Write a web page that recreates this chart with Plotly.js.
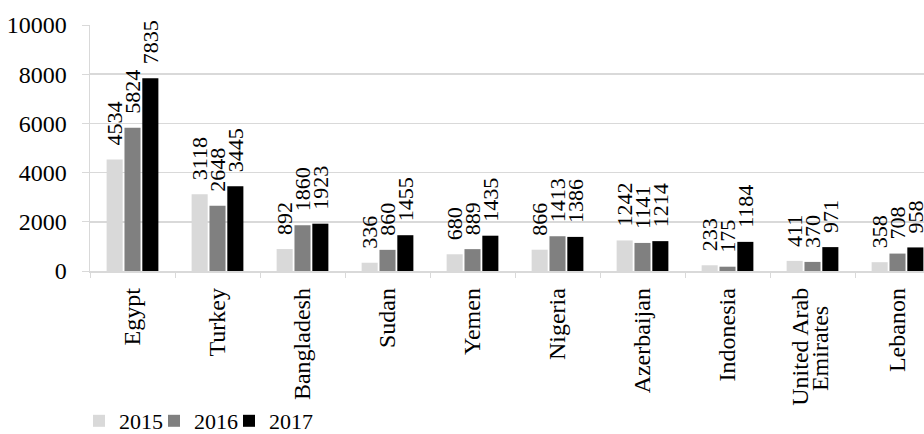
<!DOCTYPE html>
<html>
<head>
<meta charset="utf-8">
<script src="https://cdn.plot.ly/plotly-3.0.1.min.js"></script>
<style>
html, body { margin: 0; padding: 0; overflow: hidden; background: #fff; }
#chart { width: 945px; height: 470px; }
</style>
</head>
<body>
<div id="chart"></div>
<script>
const countries = ["Egypt", "Turkey", "Bangladesh", "Sudan", "Yemen", "Nigeria", "Azerbaijan", "Indonesia", "United Arab Emirates", "Lebanon"];
const tickLabels = ["Egypt", "Turkey", "Bangladesh", "Sudan", "Yemen", "Nigeria", "Azerbaijan", "Indonesia", "", "Lebanon"];
const uaeLines = ["United Arab", "Emirates\u00a0\u00a0\u00a0"];
const years = ["2015", "2016", "2017"];
const values2015 = [4534, 3118, 892, 336, 680, 866, 1242, 233, 411, 358];
const values2016 = [5824, 2648, 1860, 860, 889, 1413, 1141, 175, 370, 708];
const values2017 = [7835, 3445, 1923, 1455, 1435, 1386, 1214, 1184, 971, 958];
const yTicks = [0, 2000, 4000, 6000, 8000, 10000];

const colors = ["#d9d9d9", "#808080", "#000000"];
const series = [values2015, values2016, values2017];
const FONT = "'Liberation Serif', 'Times New Roman', serif";
const uaeIndex = countries.indexOf("United Arab Emirates");

const traces = series.map((vals, i) => ({
  type: "bar",
  name: years[i],
  x: countries,
  y: vals,
  text: vals.map(String),
  texttemplate: "\u00a0\u00a0%{text}",
  textposition: "outside",
  textangle: -90,
  constraintext: "none",
  cliponaxis: false,
  textfont: { family: FONT, size: 22, color: "#000" },
  marker: { color: colors[i] },
  hoverinfo: "x+y+name"
}));

// invisible helper: draws the second (label-only) x axis and pads the legend box
traces.push({
  type: "scatter",
  mode: "markers",
  name: "\u00a0",
  x: [uaeIndex],
  y: [0],
  xaxis: "x2",
  yaxis: "y",
  marker: { opacity: 0, size: 1, color: "rgba(0,0,0,0)" },
  showlegend: true,
  hoverinfo: "skip"
});

const layout = {
  width: 945,
  height: 470,
  margin: { l: 90, r: 5, t: 25, b: 199 },
  paper_bgcolor: "#fff",
  plot_bgcolor: "#fff",
  barmode: "group",
  bargap: 0.37,
  bargroupgap: 0.1,
  font: { family: FONT, size: 22, color: "#000" },
  showlegend: true,
  legend: {
    orientation: "h",
    x: -11 / 850, xanchor: "left",
    y: -150 / 246, yanchor: "middle",
    bgcolor: "rgba(0,0,0,0)",
    font: { family: FONT, size: 22, color: "#000" },
    itemwidth: 30,
    entrywidth: 30,
    tracegroupgap: 0
  },
  xaxis: {
    type: "category",
    tickvals: countries,
    ticktext: tickLabels,
    tickangle: -90,
    showline: true,
    linecolor: "#d9d9d9",
    linewidth: 1.5,
    ticks: "outside",
    tickson: "boundaries",
    ticklen: 5,
    tickcolor: "#d9d9d9",
    showgrid: false,
    tickfont: { family: FONT, size: 24, color: "#000" },
    ticklabelstandoff: 6,
    automargin: false
  },
  xaxis2: {
    overlaying: "x",
    anchor: "y",
    side: "bottom",
    type: "linear",
    range: [-0.5, countries.length - 0.5],
    tickvals: [uaeIndex - 0.14, uaeIndex + 0.085],
    ticktext: uaeLines,
    tickangle: -90,
    showline: false,
    ticks: "",
    showgrid: false,
    zeroline: false,
    tickfont: { family: FONT, size: 24, color: "#000" },
    ticklabelstandoff: 11,
    automargin: false
  },
  yaxis: {
    range: [0, 10000],
    tickvals: yTicks,
    ticktext: yTicks.map(String),
    showline: true,
    linecolor: "#d9d9d9",
    linewidth: 1.5,
    ticks: "outside",
    ticklen: 7,
    tickcolor: "#d9d9d9",
    showgrid: true,
    gridcolor: "#d9d9d9",
    gridwidth: 1.5,
    zeroline: false,
    tickfont: { family: FONT, size: 24, color: "#000" },
    ticklabelstandoff: 10,
    automargin: false
  }
};

Plotly.newPlot("chart", traces, layout, { displayModeBar: false, staticPlot: true });
</script>
</body>
</html>
